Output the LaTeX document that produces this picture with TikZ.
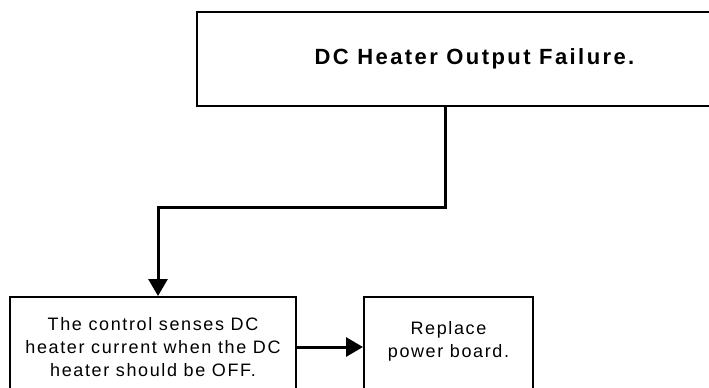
\documentclass[tikz,border=0pt]{standalone}
\usepackage{fontspec}
\setmainfont{Liberation Sans}
\newfontfamily\headfont{Liberation Sans}[LetterSpace=11]
\newfontfamily\stepfont{Liberation Sans}[LetterSpace=9]
\usetikzlibrary{arrows.meta,positioning}
\begin{document}
\begin{tikzpicture}[x=1bp,y=-1bp,
    box/.style={draw, line width=2bp, inner sep=0pt},
    headtext/.style={font=\headfont\bfseries\fontsize{22bp}{26bp}\selectfont},
    steptext/.style={font=\stepfont\fontsize{18bp}{23bp}\selectfont, align=center},
    conn/.style={line width=3bp, -{Triangle[length=17bp,width=19bp]}}]
% Page size and clipping
\clip (0,0) rectangle (709,387);

% Boxes
\node[box, headtext, minimum width=555bp, minimum height=94bp] (fail) at (474.5,59) {DC Heater Output Failure.};
\node[box, steptext, minimum width=286bp, minimum height=100bp] (sense) at (153,347)
    {The control senses DC\\heater current when the DC\\heater should be OFF.};
\node[box, minimum width=169bp, minimum height=100bp,
      label={[steptext, yshift=6bp]center:{Replace\\power board.}}] (power) at (448.5,347) {};

% Connectors
\coordinate (turn) at (445,207);
\coordinate (drop) at (158,207);
\draw[conn] (fail.south -| turn) -- (turn) -- (drop) -- (drop |- sense.north);
\draw[conn] (sense.east) -- (power.west);
\end{tikzpicture}
\end{document}
